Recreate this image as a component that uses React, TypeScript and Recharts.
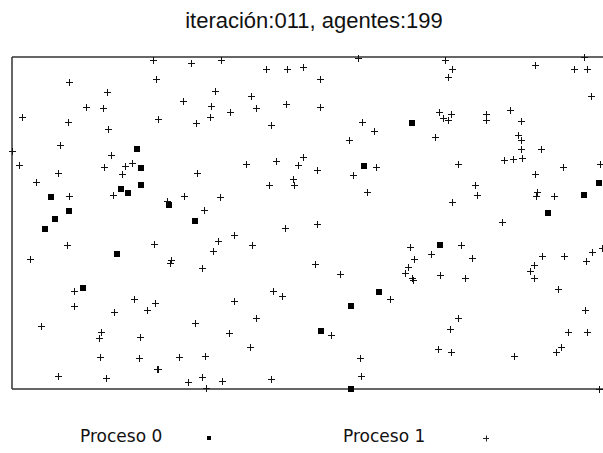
import { ScatterChart, Scatter, XAxis, YAxis, ReferenceLine } from "recharts"

type Pt = { x: number; y: number }

// agent positions, proceso 0 (squares)
const proceso0: Pt[] = [
  { x: 125, y: 240 }, { x: 129, y: 221 }, { x: 129, y: 204 }, { x: 109, y: 200 },
  { x: 116, y: 196 }, { x: 39, y: 192 }, { x: 157, y: 184 }, { x: 57, y: 178 },
  { x: 43, y: 170 }, { x: 183, y: 168 }, { x: 352, y: 223 }, { x: 400, y: 266 },
  { x: 587, y: 206 }, { x: 572, y: 194 }, { x: 536, y: 176 }, { x: 33, y: 160 },
  { x: 105, y: 135 }, { x: 71, y: 101 }, { x: 367, y: 97 }, { x: 339, y: 83 },
  { x: 309, y: 58 }, { x: 339, y: 0 }, { x: 428, y: 144 },
]

// agent positions, proceso 1 (plus)
const proceso1: Pt[] = [
  { x: 141, y: 329 }, { x: 179, y: 326 }, { x: 57, y: 307 }, { x: 144, y: 310 },
  { x: 95, y: 297 }, { x: 171, y: 288 }, { x: 74, y: 282 }, { x: 91, y: 281 },
  { x: 10, y: 272 }, { x: 56, y: 267 }, { x: 146, y: 270 }, { x: 184, y: 266 },
  { x: 96, y: 260 }, { x: 48, y: 244 }, { x: 0, y: 238 }, { x: 99, y: 234 },
  { x: 7, y: 224 }, { x: 92, y: 222 }, { x: 113, y: 223 }, { x: 120, y: 226 },
  { x: 46, y: 216 }, { x: 110, y: 215 }, { x: 185, y: 216 }, { x: 24, y: 207 },
  { x: 101, y: 194 }, { x: 57, y: 193 }, { x: 172, y: 193 }, { x: 155, y: 188 },
  { x: 192, y: 179 },
  { x: 209, y: 329 }, { x: 346, y: 331 }, { x: 254, y: 320 }, { x: 275, y: 320 },
  { x: 291, y: 322 }, { x: 308, y: 310 }, { x: 203, y: 298 }, { x: 239, y: 293 },
  { x: 199, y: 283 }, { x: 218, y: 277 }, { x: 244, y: 281 }, { x: 274, y: 285 },
  { x: 308, y: 282 }, { x: 198, y: 272 }, { x: 259, y: 264 }, { x: 350, y: 267 },
  { x: 362, y: 258 }, { x: 337, y: 249 }, { x: 291, y: 232 }, { x: 234, y: 225 },
  { x: 264, y: 228 }, { x: 286, y: 224 }, { x: 305, y: 219 }, { x: 364, y: 222 },
  { x: 341, y: 214 }, { x: 281, y: 210 }, { x: 282, y: 204 }, { x: 257, y: 204 },
  { x: 355, y: 197 }, { x: 208, y: 192 }, { x: 305, y: 165 },
  { x: 433, y: 329 }, { x: 572, y: 332 }, { x: 523, y: 324 }, { x: 440, y: 320 },
  { x: 562, y: 320 }, { x: 575, y: 320 }, { x: 436, y: 312 }, { x: 579, y: 293 },
  { x: 427, y: 277 }, { x: 431, y: 271 }, { x: 436, y: 269 }, { x: 439, y: 275 },
  { x: 474, y: 275 }, { x: 474, y: 269 }, { x: 498, y: 279 }, { x: 509, y: 268 },
  { x: 423, y: 252 }, { x: 506, y: 254 }, { x: 509, y: 249 }, { x: 509, y: 240 },
  { x: 529, y: 240 }, { x: 492, y: 229 }, { x: 501, y: 230 }, { x: 510, y: 231 },
  { x: 446, y: 225 }, { x: 551, y: 222 }, { x: 588, y: 225 }, { x: 523, y: 215 },
  { x: 463, y: 204 }, { x: 465, y: 194 }, { x: 525, y: 197 }, { x: 524, y: 193 },
  { x: 542, y: 193 }, { x: 440, y: 187 }, { x: 490, y: 167 },
  { x: 55, y: 144 }, { x: 142, y: 145 }, { x: 18, y: 130 }, { x: 159, y: 129 },
  { x: 158, y: 126 }, { x: 190, y: 121 }, { x: 62, y: 98 }, { x: 122, y: 90 },
  { x: 143, y: 86 }, { x: 135, y: 79 }, { x: 62, y: 83 }, { x: 102, y: 77 },
  { x: 29, y: 63 }, { x: 183, y: 66 }, { x: 89, y: 57 }, { x: 87, y: 51 },
  { x: 128, y: 52 }, { x: 88, y: 32 }, { x: 127, y: 31 }, { x: 167, y: 32 },
  { x: 193, y: 33 }, { x: 145, y: 20 }, { x: 146, y: 20 }, { x: 46, y: 13 },
  { x: 94, y: 11 }, { x: 176, y: 7 }, { x: 190, y: 12 },
  { x: 273, y: 161 }, { x: 206, y: 148 }, { x: 222, y: 154 }, { x: 240, y: 144 },
  { x: 201, y: 138 }, { x: 303, y: 125 }, { x: 328, y: 115 }, { x: 261, y: 98 },
  { x: 270, y: 93 }, { x: 378, y: 90 }, { x: 222, y: 88 }, { x: 244, y: 71 },
  { x: 319, y: 54 }, { x: 217, y: 56 }, { x: 238, y: 42 }, { x: 348, y: 31 },
  { x: 349, y: 13 }, { x: 210, y: 8 }, { x: 259, y: 10 }, { x: 194, y: 1 },
  { x: 398, y: 142 }, { x: 449, y: 144 }, { x: 419, y: 135 }, { x: 402, y: 130 },
  { x: 460, y: 131 }, { x: 396, y: 122 }, { x: 393, y: 116 }, { x: 400, y: 111 },
  { x: 401, y: 109 }, { x: 428, y: 114 }, { x: 453, y: 111 }, { x: 530, y: 133 },
  { x: 552, y: 133 }, { x: 574, y: 128 }, { x: 580, y: 137 }, { x: 590, y: 141 },
  { x: 522, y: 124 }, { x: 518, y: 118 }, { x: 522, y: 111 }, { x: 546, y: 100 },
  { x: 446, y: 71 }, { x: 438, y: 60 }, { x: 573, y: 79 }, { x: 556, y: 57 },
  { x: 575, y: 57 }, { x: 426, y: 40 }, { x: 439, y: 37 }, { x: 502, y: 33 },
  { x: 549, y: 42 }, { x: 544, y: 37 }, { x: 587, y: 0 },
]

const xDomain: [number, number] = [0, 591]
const yDomain: [number, number] = [0, 332]
const titulo = "iteración:011, agentes:199"
const leyenda = ["Proceso 0", "Proceso 1"]

const frame = "#333"

function Square({ cx, cy }: any) {
  if (cx == null || cy == null) return null
  return <rect x={Math.round(cx) - 3} y={Math.round(cy) - 3} width={6} height={6} fill="#000" />
}

function Plus({ cx, cy }: any) {
  if (cx == null || cy == null) return null
  const x = Math.round(cx) + 0.5
  const y = Math.round(cy) + 0.5
  return (
    <g stroke="#111" strokeWidth={1}>
      <line x1={x - 3.5} y1={y} x2={x + 3.5} y2={y} />
      <line x1={x} y1={y - 3.5} x2={x} y2={y + 3.5} />
    </g>
  )
}

export default function App() {
  return (
    <div
      style={{
        position: "absolute",
        left: 0,
        top: 0,
        width: 603,
        height: 453,
        overflow: "hidden",
        background: "#fff",
      }}
    >
      <div
        style={{
          position: "absolute",
          top: 8,
          left: 0,
          width: 628,
          textAlign: "center",
          fontFamily: "'Liberation Sans', Arial, sans-serif",
          fontSize: 22,
          color: "#111",
          whiteSpace: "nowrap",
        }}
      >
        {titulo}
      </div>
      <ScatterChart
        width={603}
        height={453}
        margin={{ top: 57, right: 0, bottom: 64, left: 12 }}
      >
        <XAxis type="number" dataKey="x" domain={xDomain} hide />
        <YAxis type="number" dataKey="y" domain={yDomain} hide />
        <ReferenceLine y={yDomain[1]} stroke={frame} strokeWidth={1.5} />
        <ReferenceLine y={yDomain[0]} stroke={frame} strokeWidth={1.5} />
        <ReferenceLine x={xDomain[0]} stroke={frame} strokeWidth={1.5} />
        <Scatter data={proceso0} shape={Square} isAnimationActive={false} />
        <Scatter data={proceso1} shape={Plus} isAnimationActive={false} />
      </ScatterChart>
      <div
        style={{
          position: "absolute",
          top: 426,
          left: 0,
          width: 603,
          height: 24,
          fontFamily: "'DejaVu Sans', sans-serif",
          fontSize: 17,
          color: "#111",
        }}
      >
        <span style={{ position: "absolute", left: 80, top: 0 }}>{leyenda[0]}</span>
        <svg style={{ position: "absolute", left: 204, top: 7 }} width={10} height={10}>
          <rect x={3} y={3} width={4} height={4} fill="#000" />
        </svg>
        <span style={{ position: "absolute", left: 343, top: 0 }}>{leyenda[1]}</span>
        <svg style={{ position: "absolute", left: 481, top: 7 }} width={10} height={10}>
          <line x1={2} y1={5.5} x2={8} y2={5.5} stroke="#222" strokeWidth={1} />
          <line x1={5.5} y1={2.5} x2={5.5} y2={8.5} stroke="#222" strokeWidth={1} />
        </svg>
      </div>
    </div>
  )
}
